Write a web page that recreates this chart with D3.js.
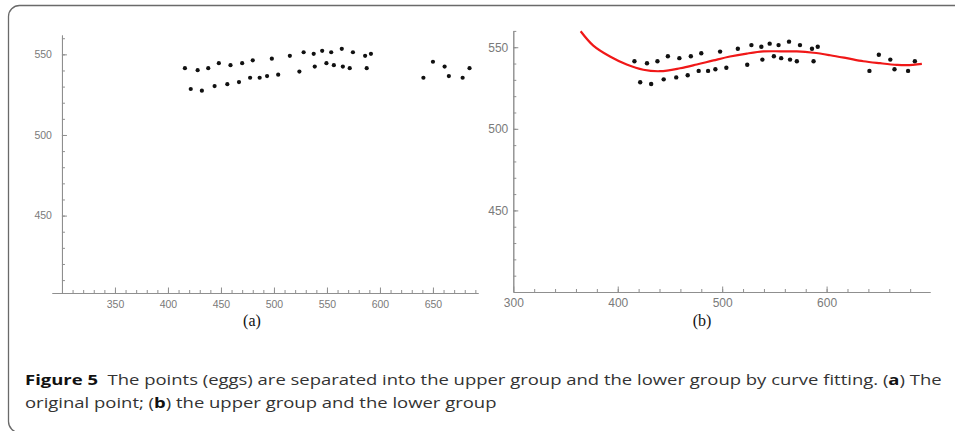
<!DOCTYPE html>
<html>
<head>
<meta charset="utf-8">
<script src="https://cdn.jsdelivr.net/npm/d3@7"></script>
<style>
  html, body { margin: 0; padding: 0; background: #fff; }
  svg { display: block; }
</style>
</head>
<body>
<svg id="fig" width="955" height="431"></svg>
<script>
// Egg positions (x, y)
const eggX = [416, 428, 438, 448, 459, 470, 480, 498, 515, 528, 537.5, 545.5, 554, 564, 574.5, 586, 591.5,
              421.5, 432, 444, 456, 467, 477.5, 486.5, 493.5, 504, 524, 538.5, 549.5, 556.5, 565, 571.5, 587.5,
              641, 650, 661, 665, 678, 684.5];
const eggY = [541.4, 540.2, 541.4, 544.5, 543.3, 544.5, 546.3, 547.3, 549.1, 551.3, 550.3, 552.2, 551.3, 553.4, 551.3, 549.1, 550.3,
              528.5, 527.5, 530.3, 531.5, 532.8, 535.5, 535.5, 536.5, 537.4, 539.3, 542.4, 544.5, 543.3, 542.4, 541.4, 541.4,
              535.5, 545.4, 542.4, 536.5, 535.5, 541.4];

// Fitted separating curve
const fitX = [364.5, 376.6, 392.6, 408.6, 424.5, 440.5, 459.7, 475.7, 491.6, 507.5, 523.6, 539.5,
              555.5, 571.5, 587.4, 603.4, 619.3, 635.2, 651.2, 667.2, 676.8, 691.2];
const fitY = [559.8, 551.0, 544.3, 539.4, 536.2, 535.3, 537.1, 539.4, 541.9, 544.3, 546.1, 547.4,
              547.5, 547.4, 546.6, 545.1, 543.3, 541.4, 540.2, 539.2, 539.0, 539.8];

// Tick values
const leftXTicks = [350, 400, 450, 500, 550, 600, 650];
const leftYTicks = [450, 500, 550];
const rightXTicks = [300, 400, 500, 600];
const rightYTicks = [450, 500, 550];

const svg = d3.select("#fig");
const axisColor = "#8f8f8f";
const labelColor = "#7a7a7a";

// frame around the figure
svg.append("rect")
  .attr("x", 8.5).attr("y", 5.5)
  .attr("width", 1000).attr("height", 427)
  .attr("rx", 11).attr("ry", 11)
  .attr("fill", "none").attr("stroke", "#6a6a6a").attr("stroke-width", 1.3);

function styleAxis(g, fs) {
  g.selectAll("path.domain").attr("stroke", axisColor).attr("stroke-width", 1);
  g.selectAll("line").attr("stroke", axisColor).attr("stroke-width", 1);
  g.selectAll("text").attr("fill", labelColor)
    .attr("font-family", "'Liberation Sans', Arial, sans-serif")
    .attr("font-size", fs);
}

function range(a, b, s) { const r = []; for (let v = a; v <= b + 1e-9; v += s) r.push(v); return r; }

function panel(opts) {
  const { x, y, xTicks, yTicks, xMinor, yMinor, xAt, yAt, fs, xPad, yPad } = opts;
  const g = svg.append("g");
  const ax = g.append("g").attr("transform", `translate(0,${y(yAt)})`);
  ax.append("g").call(d3.axisBottom(x).tickValues(xMinor).tickSizeInner(-3).tickSizeOuter(0).tickFormat(""))
    .call(s => styleAxis(s, fs));
  ax.append("g").call(d3.axisBottom(x).tickValues(xTicks).tickSizeInner(-5.5).tickSizeOuter(0).tickPadding(xPad))
    .call(s => styleAxis(s, fs));
  const ay = g.append("g").attr("transform", `translate(${x(xAt)},0)`);
  ay.append("g").call(d3.axisLeft(y).tickValues(yMinor).tickSizeInner(-3).tickSizeOuter(0).tickFormat(""))
    .call(s => styleAxis(s, fs));
  ay.append("g").call(d3.axisLeft(y).tickValues(yTicks).tickSizeInner(-5).tickSizeOuter(0).tickPadding(yPad))
    .call(s => styleAxis(s, fs));
  return g;
}

// (a) original points
const xL = d3.scaleLinear().domain([290.6, 692.5]).range([52, 478]);
const yL = d3.scaleLinear().domain([402, 562]).range([293, 35]);
const gA = panel({ x: xL, y: yL, xTicks: leftXTicks, yTicks: leftYTicks,
  xMinor: range(310, 690, 10), yMinor: range(410, 560, 10), xAt: 300, yAt: 402,
  fs: 10.5, xPad: 7.5, yPad: 10 });
gA.append("g").selectAll("circle").data(eggX).join("circle")
  .attr("cx", (d) => xL(d)).attr("cy", (d, i) => yL(eggY[i]))
  .attr("r", 2.1).attr("fill", "#111");

// (b) points with fitted curve
const xR = d3.scaleLinear().domain([300, 699]).range([513.3, 930]);
const yR = d3.scaleLinear().domain([400, 560]).range([292, 30.9]);
const gB = panel({ x: xR, y: yR, xTicks: rightXTicks, yTicks: rightYTicks,
  xMinor: range(320, 680, 20), yMinor: range(410, 560, 10), xAt: 300, yAt: 400,
  fs: 12, xPad: 6.5, yPad: 5 });
gB.append("g").selectAll("circle").data(eggX).join("circle")
  .attr("cx", (d) => xR(d)).attr("cy", (d, i) => yR(eggY[i]))
  .attr("r", 2.2).attr("fill", "#111");
const fitLine = d3.line().x((d) => xR(d)).y((d, i) => yR(fitY[i])).curve(d3.curveCatmullRom);
gB.append("path").attr("d", fitLine(fitX))
  .attr("fill", "none").attr("stroke", "#f01818").attr("stroke-width", 2.2);

// sub-figure labels
svg.append("text").attr("x", 252).attr("y", 326).attr("text-anchor", "middle")
  .attr("font-family", "'Liberation Serif', 'Times New Roman', serif").attr("font-size", 16)
  .attr("fill", "#111").text("(a)");
svg.append("text").attr("x", 702).attr("y", 326).attr("text-anchor", "middle")
  .attr("font-family", "'Liberation Serif', 'Times New Roman', serif").attr("font-size", 16)
  .attr("fill", "#111").text("(b)");

// caption
function captionLine(yBase, parts, targetWidth) {
  const t = svg.append("text")
    .attr("font-family", "'Open Sans', 'Noto Sans', sans-serif")
    .attr("font-size", 14.5).attr("fill", "#333");
  parts.forEach(([str, bold]) => {
    t.append("tspan").attr("font-weight", bold ? 700 : 400)
      .attr("fill", bold ? "#111" : "#333").text(str);
  });
  t.attr("xml:space", "preserve").style("white-space", "pre");
  const w = t.node().getComputedTextLength();
  return { node: t, w };
}
const l1 = captionLine(385, [["Figure 5", true], ["  The points (eggs) are separated into the upper group and the lower group by curve fitting. (", false], ["a", true], [") The", false]]);
const l2 = captionLine(408, [["original point; (", false], ["b", true], [") the upper group and the lower group", false]]);
const sx = 917 / l1.w;
l1.node.attr("transform", `translate(25,385) scale(${sx},1)`);
l2.node.attr("transform", `translate(25,408) scale(${sx},1)`);
</script>
</body>
</html>
